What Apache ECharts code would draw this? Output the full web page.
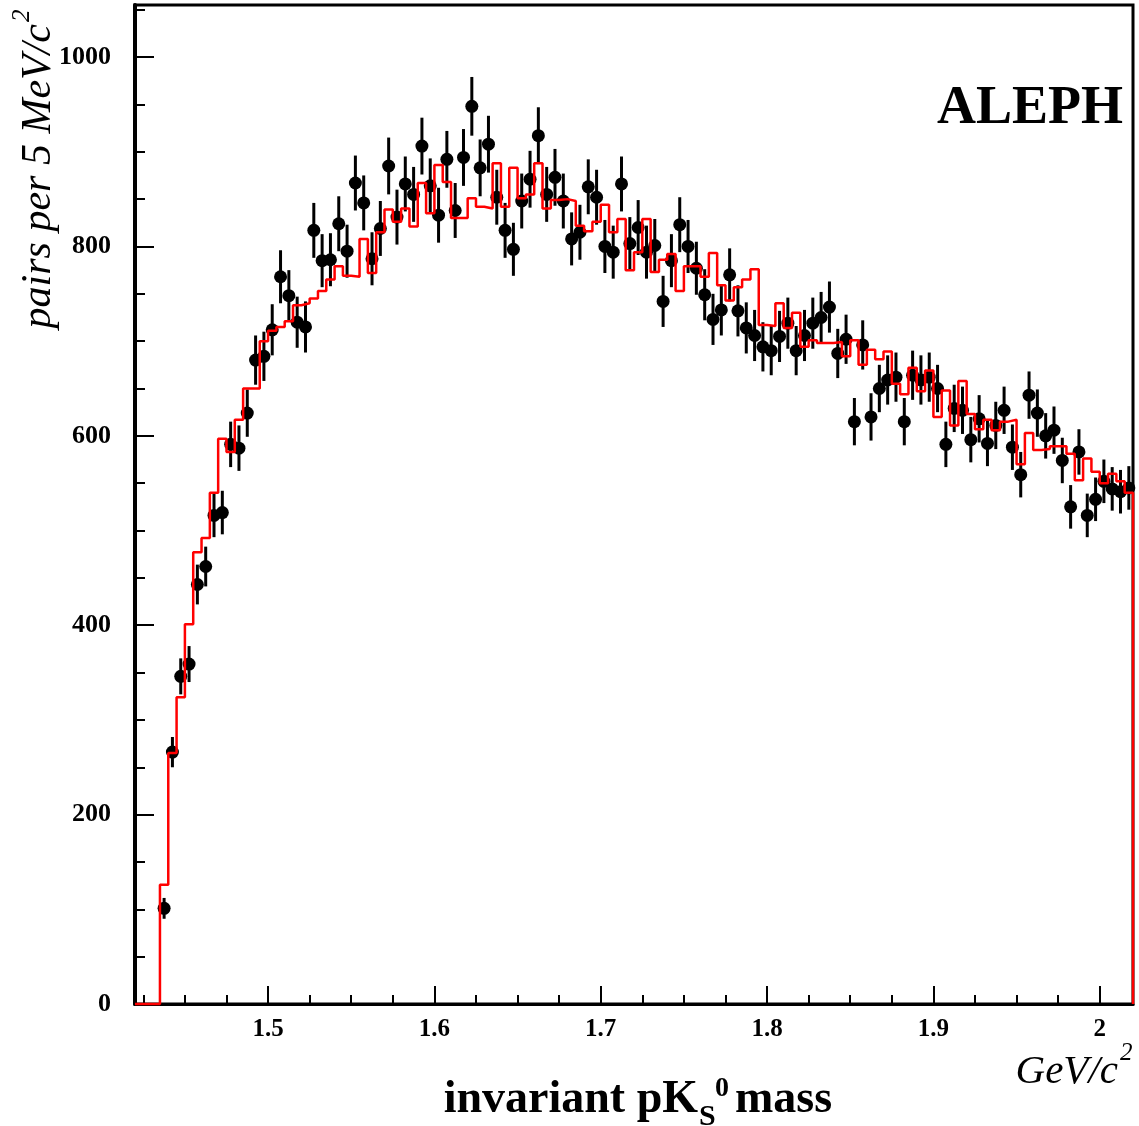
<!DOCTYPE html>
<html>
<head>
<meta charset="utf-8">
<script src="https://cdn.jsdelivr.net/npm/echarts@6/dist/echarts.min.js"></script>
<style>
  html, body { margin: 0; padding: 0; background: #fff; }
  #chart { width: 1139px; height: 1126px; }
</style>
</head>
<body>
<div id="chart"></div>
<script>
// 5 MeV bins, first bin starts at 1.435 GeV
var firstBinLow = 1.435;
var binWidth = 0.005;

// red histogram (simulation), one value per bin
var mcCounts = [
  126, 265, 324, 401, 477, 492, 540, 597, 583, 617,
  650, 650, 700, 711, 715, 721, 738, 740, 745, 753,
  765, 779, 769, 768, 808, 772, 815, 839, 826, 840,
  821, 867, 835, 886, 868, 830, 830, 851, 842, 840,
  888, 842, 883, 851, 855, 888, 840, 849, 850, 848,
  822, 816, 826, 844, 815, 829, 775, 794, 829, 773,
  786, 792, 753, 779, 779, 768, 793, 759, 743, 757,
  765, 776, 717, 716, 740, 714, 730, 694, 701, 698,
  698, 699, 684, 701, 675, 691, 681, 689, 655, 644,
  672, 647, 669, 620, 648, 611, 658, 623, 607, 617,
  606, 615, 617, 570, 603, 585, 586, 589, 589, 581,
  553, 576, 562, 550, 560, 552, 540
];

// data points (black dots) at bin centres
var dataCounts = [
  101, 266, 346, 359, 443, 462, 516, 519, 591, 587,
  624, 680, 684, 712, 768, 748, 720, 715, 817, 785,
  786, 824, 795, 867, 846, 787, 819, 885, 831, 866,
  855, 906, 864, 833, 892, 838, 894, 948, 883, 908,
  852, 817, 797, 848, 871, 917, 855, 873, 848, 808,
  815, 863, 852, 800, 794, 866, 803, 820, 794, 801,
  742, 785, 823, 800, 777, 749, 723, 733, 770, 732,
  714, 706, 694, 690, 705, 719, 690, 706, 719, 725,
  736, 687, 702, 615, 696, 620, 650, 659, 662, 615,
  664, 659, 662, 650, 591, 629, 627, 596, 618, 592,
  611, 627, 588, 559, 643, 624, 600, 606, 574, 525,
  583, 516, 533, 552, 544, 541, 545
];

var dataErrors = [
  11, 16, 19, 19, 21, 21, 23, 23, 24, 24,
  25, 26, 26, 27, 28, 27, 27, 27, 29, 28,
  28, 29, 28, 29, 29, 28, 29, 30, 29, 29,
  29, 30, 29, 29, 30, 29, 30, 31, 30, 30,
  29, 29, 28, 29, 30, 30, 29, 30, 29, 28,
  29, 29, 29, 28, 28, 29, 28, 29, 28, 28,
  27, 28, 29, 28, 28, 27, 27, 27, 28, 27,
  27, 27, 26, 26, 27, 27, 26, 27, 27, 27,
  27, 26, 26, 25, 26, 25, 25, 26, 26, 25,
  26, 26, 26, 25, 24, 25, 25, 24, 25, 24,
  25, 25, 24, 24, 25, 25, 24, 25, 24, 23,
  24, 23, 23, 23, 23, 23, 23
];

var xTickLabels = [1.5, 1.6, 1.7, 1.8, 1.9, 2.0];
var xMinorTicks = [1.425, 1.45, 1.475, 1.5, 1.525, 1.55, 1.575, 1.6, 1.625, 1.65, 1.675, 1.7,
                   1.725, 1.75, 1.775, 1.8, 1.825, 1.85, 1.875, 1.9, 1.925, 1.95, 1.975, 2.0];
var yTickLabels = [0, 200, 400, 600, 800, 1000];
var yMinorTicks = [50, 100, 150, 250, 300, 350, 450, 500, 550, 650, 700, 750, 850, 900, 950, 1050];

var serif = 'Liberation Serif, Times New Roman, serif';

// step line points: flat at zero before the first bin, one point per bin low edge, drop at the end
var histPoints = [[1.42, 0]];
mcCounts.forEach(function (v, i) {
  histPoints.push([firstBinLow + i * binWidth, v]);
});
var lastEdge = firstBinLow + mcCounts.length * binWidth;
histPoints.push([lastEdge, mcCounts[mcCounts.length - 1]]);
histPoints.push([lastEdge, 0]);

var points = [];
var bars = [];
dataCounts.forEach(function (v, i) {
  var c = firstBinLow + (i + 0.5) * binWidth;
  points.push([c, v]);
  bars.push([c, v, dataErrors[i]]);
});

function txt(x, y, text, size, opts) {
  opts = opts || {};
  return {
    type: 'text', x: x, y: y, rotation: opts.rotation || 0, z: 100,
    style: {
      text: text,
      font: (opts.italic ? 'italic ' : '') + (opts.bold ? 'bold ' : '') + size + 'px ' + serif,
      fill: '#000',
      align: opts.align || 'left', textAlign: opts.align || 'left',
      verticalAlign: 'middle', textVerticalAlign: 'middle'
    }
  };
}

var chart = echarts.init(document.getElementById('chart'));
chart.setOption({
  animation: false,
  backgroundColor: '#fff',
  grid: { left: 135, right: 6, top: 5, bottom: 122, show: true, borderColor: '#000', borderWidth: 3 },
  xAxis: [
    {
      type: 'value', min: 1.42, max: 2.02,
      axisLine: { show: true, lineStyle: { color: '#000', width: 3 } },
      axisTick: { show: true, inside: true, length: 18, customValues: xTickLabels, lineStyle: { color: '#000', width: 2 } },
      axisLabel: {
        customValues: xTickLabels, margin: 13, color: '#000',
        fontFamily: serif, fontWeight: 'bold', fontSize: 25,
        formatter: function (v) { return String(Math.round(v * 10) / 10); }
      },
      splitLine: { show: false }
    },
    {
      type: 'value', min: 1.42, max: 2.02, position: 'bottom',
      axisLine: { show: false },
      axisTick: { show: true, inside: true, length: 9, customValues: xMinorTicks, lineStyle: { color: '#000', width: 2 } },
      axisLabel: { show: false },
      splitLine: { show: false }
    }
  ],
  yAxis: [
    {
      type: 'value', min: 0, max: 1055,
      axisLine: { show: true, lineStyle: { color: '#000', width: 4 } },
      axisTick: { show: true, inside: true, length: 19, customValues: yTickLabels, lineStyle: { color: '#000', width: 2 } },
      axisLabel: {
        customValues: yTickLabels, margin: 24, color: '#000',
        fontFamily: serif, fontWeight: 'bold', fontSize: 26,
        formatter: function (v) { return String(v); }
      },
      splitLine: { show: false }
    },
    {
      type: 'value', min: 0, max: 1055, position: 'left',
      axisLine: { show: false },
      axisTick: { show: true, inside: true, length: 10, customValues: yMinorTicks, lineStyle: { color: '#000', width: 2 } },
      axisLabel: { show: false },
      splitLine: { show: false }
    }
  ],
  series: [
    {
      type: 'custom',
      data: bars,
      z: 3,
      renderItem: function (params, api) {
        var x = api.value(0), v = api.value(1), e = api.value(2);
        var lo = api.coord([x, v - e]);
        var hi = api.coord([x, v + e]);
        return {
          type: 'line',
          shape: { x1: lo[0], y1: lo[1], x2: hi[0], y2: hi[1] },
          style: { stroke: '#000', lineWidth: 3 }
        };
      }
    },
    {
      type: 'scatter',
      data: points,
      symbol: 'circle',
      symbolSize: 13,
      itemStyle: { color: '#000', opacity: 1 },
      z: 4
    },
    {
      type: 'line',
      data: histPoints,
      step: 'end',
      showSymbol: false,
      clip: false,
      lineStyle: { color: '#ff0000', width: 2.5 },
      z: 5
    }
  ],
  graphic: [
    txt(1123, 109, 'ALEPH', 54, { bold: true, align: 'right' }),
    txt(698, 1100, 'invariant pK', 46, { bold: true, align: 'right' }),
    txt(699, 1117, 'S', 30, { bold: true }),
    txt(715, 1089, '0', 28, { bold: true }),
    txt(735, 1100, 'mass', 46, { bold: true }),
    txt(1118, 1072, 'GeV/c', 41, { italic: true, align: 'right' }),
    txt(1120, 1053, '2', 25, { italic: true }),
    txt(39, 24, 'pairs per 5 MeV/c', 42, { italic: true, align: 'right', rotation: Math.PI / 2 }),
    txt(22, 22, '2', 25, { italic: true, align: 'left', rotation: Math.PI / 2 })
  ]
});
</script>
</body>
</html>
